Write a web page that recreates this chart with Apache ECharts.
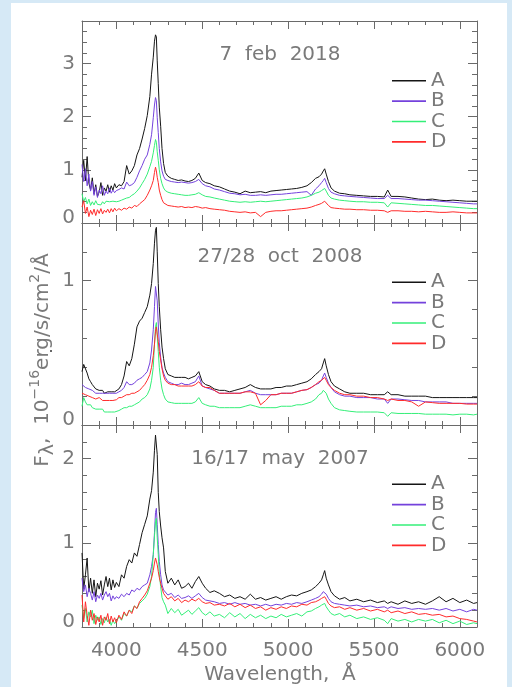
<!DOCTYPE html>
<html><head><meta charset="utf-8">
<script src="https://cdn.jsdelivr.net/npm/echarts@6/dist/echarts.min.js"></script>
<style>
html,body{margin:0;padding:0;background:#d6e9f6;}
#wrap{position:relative;width:512px;height:687px;background:#d6e9f6;overflow:hidden;}
#paper{position:absolute;left:11px;top:3px;width:496px;height:684px;background:#ffffff;}
#c{position:absolute;left:0;top:0;width:512px;height:687px;}
</style>
</head><body><div id="wrap"><div id="paper"></div><div id="c"></div></div>
<script>
// ---- data ----
const wavelengths = [
 3800,3810,3820,3830,3840,3850,3860,3870,3880,3890,3900,3910,3920,3930,3940,3950,3960,3970,3980,3990,4000,
 4015,4030,4045,4060,4075,4090,4105,4120,4135,4150,4165,4180,4195,4205,4215,4222,4228,4233,4238,4244,4250,4258,4266,4275,4285,
 4300,4320,4340,4360,4380,4400,4420,4440,4460,4480,4500,4520,4545,4570,
 4600,4630,4660,4690,4720,4750,4780,4810,4840,4870,4900,4930,4960,4990,5020,5050,5080,5110,
 5135,5160,5180,5195,5205,5213,5222,5235,5250,5270,5300,5330,5360,
 5400,5440,5480,5520,5560,5580,5600,5640,5680,5720,5760,5800,5840,5880,5920,5960,6000,6040,6080,6100];

const feb2018_A = [
 0.86,1.18,0.80,1.25,0.75,0.62,0.85,0.55,0.72,0.50,0.58,0.76,0.52,0.66,0.60,0.72,0.58,0.70,0.62,0.74,0.66,
 0.72,0.70,0.78,1.08,0.92,0.98,1.08,1.28,1.40,1.58,1.78,2.02,2.38,2.80,3.12,3.42,3.54,3.50,3.05,2.62,2.18,1.82,1.40,1.12,0.95,
 0.88,0.84,0.82,0.80,0.81,0.79,0.78,0.80,0.84,0.94,0.80,0.76,0.74,0.70,
 0.68,0.64,0.60,0.58,0.55,0.60,0.57,0.58,0.59,0.57,0.60,0.61,0.62,0.63,0.64,0.65,0.67,0.70,
 0.76,0.84,0.87,0.92,0.98,1.02,0.92,0.78,0.66,0.60,0.56,0.55,0.53,
 0.52,0.51,0.50,0.50,0.49,0.62,0.50,0.50,0.49,0.47,0.45,0.44,0.45,0.43,0.42,0.43,0.42,0.41,0.41,0.41];
const feb2018_B = [
 1.10,0.78,1.02,0.70,0.92,0.60,0.78,0.52,0.68,0.48,0.62,0.55,0.70,0.52,0.60,0.55,0.66,0.56,0.62,0.57,0.61,
 0.63,0.66,0.64,0.77,0.70,0.72,0.76,0.86,0.98,1.08,1.20,1.28,1.48,1.66,1.98,2.22,2.36,2.30,1.98,1.70,1.40,1.15,0.98,0.88,0.82,
 0.80,0.78,0.77,0.76,0.77,0.76,0.75,0.76,0.78,0.82,0.74,0.70,0.68,0.64,
 0.62,0.59,0.56,0.55,0.53,0.54,0.52,0.52,0.53,0.52,0.53,0.54,0.54,0.55,0.56,0.57,0.58,0.59,
 0.52,0.64,0.70,0.76,0.80,0.84,0.76,0.65,0.58,0.55,0.52,0.51,0.50,
 0.49,0.48,0.47,0.46,0.46,0.52,0.46,0.46,0.45,0.44,0.43,0.43,0.42,0.41,0.40,0.39,0.38,0.37,0.36,0.36];
const feb2018_C = [
 0.55,0.40,0.48,0.36,0.45,0.33,0.40,0.34,0.42,0.35,0.38,0.34,0.40,0.36,0.41,0.38,0.40,0.37,0.41,0.39,0.40,
 0.41,0.43,0.45,0.47,0.48,0.52,0.55,0.60,0.66,0.74,0.82,0.92,1.06,1.16,1.32,1.46,1.57,1.52,1.34,1.18,1.00,0.84,0.74,0.66,0.61,
 0.58,0.56,0.55,0.54,0.53,0.52,0.52,0.53,0.54,0.57,0.53,0.50,0.49,0.47,
 0.45,0.43,0.41,0.40,0.39,0.40,0.39,0.40,0.41,0.40,0.41,0.42,0.43,0.44,0.45,0.46,0.47,0.49,
 0.52,0.56,0.58,0.61,0.64,0.65,0.60,0.52,0.47,0.45,0.43,0.42,0.41,
 0.40,0.40,0.39,0.39,0.38,0.30,0.38,0.37,0.36,0.35,0.34,0.33,0.33,0.32,0.31,0.30,0.29,0.28,0.27,0.27];
const feb2018_D = [
 0.30,0.42,0.18,0.30,0.12,0.24,0.16,0.26,0.14,0.25,0.18,0.27,0.17,0.24,0.20,0.26,0.19,0.27,0.21,0.28,0.23,
 0.27,0.24,0.28,0.26,0.30,0.28,0.33,0.31,0.36,0.40,0.44,0.52,0.62,0.70,0.80,0.95,1.05,0.98,0.86,0.76,0.62,0.52,0.44,0.38,0.35,
 0.33,0.32,0.31,0.30,0.31,0.29,0.30,0.29,0.31,0.30,0.28,0.29,0.27,0.26,
 0.25,0.24,0.22,0.21,0.20,0.21,0.19,0.20,0.12,0.20,0.22,0.23,0.23,0.24,0.25,0.26,0.27,0.28,
 0.30,0.33,0.35,0.37,0.40,0.41,0.38,0.33,0.29,0.28,0.27,0.26,0.26,
 0.25,0.25,0.24,0.24,0.23,0.20,0.23,0.23,0.22,0.22,0.21,0.22,0.21,0.20,0.20,0.21,0.20,0.19,0.19,0.19];

const oct2008_A = [
 0.37,0.42,0.41,0.36,0.32,0.30,0.28,0.27,0.25,0.24,0.24,0.23,0.24,0.22,0.23,0.23,0.22,0.23,0.24,0.23,0.24,
 0.25,0.28,0.34,0.44,0.41,0.46,0.56,0.68,0.72,0.74,0.78,0.82,0.90,0.98,1.12,1.26,1.35,1.37,1.20,0.98,0.82,0.66,0.54,0.46,0.39,
 0.35,0.34,0.33,0.33,0.33,0.33,0.32,0.33,0.34,0.37,0.30,0.28,0.27,0.25,
 0.24,0.24,0.23,0.24,0.25,0.26,0.28,0.26,0.25,0.25,0.25,0.26,0.26,0.27,0.27,0.28,0.29,0.30,
 0.32,0.35,0.37,0.39,0.43,0.46,0.41,0.35,0.30,0.27,0.25,0.23,0.22,
 0.22,0.22,0.21,0.21,0.21,0.23,0.21,0.21,0.20,0.20,0.20,0.20,0.19,0.19,0.19,0.19,0.19,0.19,0.19,0.19];
const oct2008_B = [
 0.28,0.27,0.26,0.25,0.25,0.245,0.24,0.23,0.22,0.22,0.22,0.21,0.22,0.21,0.22,0.21,0.22,0.21,0.22,0.22,0.22,
 0.23,0.24,0.26,0.30,0.28,0.28,0.29,0.31,0.32,0.33,0.35,0.37,0.43,0.52,0.66,0.82,0.96,0.97,0.86,0.70,0.57,0.47,0.40,0.36,0.33,
 0.30,0.29,0.28,0.28,0.29,0.28,0.28,0.29,0.30,0.34,0.27,0.26,0.25,0.24,
 0.22,0.22,0.22,0.22,0.22,0.23,0.24,0.22,0.21,0.21,0.21,0.21,0.22,0.22,0.22,0.23,0.24,0.245,
 0.26,0.28,0.29,0.31,0.34,0.36,0.33,0.29,0.26,0.23,0.21,0.20,0.20,
 0.19,0.19,0.19,0.18,0.18,0.15,0.18,0.18,0.175,0.17,0.17,0.16,0.16,0.16,0.16,0.15,0.15,0.15,0.15,0.15];
const oct2008_C = [
 0.13,0.19,0.16,0.14,0.15,0.14,0.12,0.13,0.11,0.12,0.11,0.10,0.11,0.09,0.10,0.09,0.10,0.09,0.10,0.09,0.09,
 0.10,0.11,0.12,0.12,0.13,0.13,0.14,0.15,0.16,0.18,0.19,0.21,0.25,0.31,0.40,0.56,0.68,0.71,0.62,0.51,0.40,0.31,0.25,0.21,0.18,
 0.16,0.155,0.15,0.15,0.15,0.15,0.15,0.15,0.16,0.19,0.15,0.14,0.13,0.13,
 0.12,0.12,0.12,0.12,0.12,0.13,0.14,0.13,0.12,0.12,0.12,0.12,0.13,0.13,0.13,0.14,0.14,0.15,
 0.16,0.18,0.21,0.22,0.24,0.245,0.22,0.18,0.15,0.12,0.105,0.10,0.095,
 0.09,0.09,0.09,0.09,0.085,0.06,0.085,0.08,0.08,0.08,0.08,0.075,0.075,0.075,0.075,0.07,0.075,0.075,0.07,0.075];
const oct2008_D = [
 0.22,0.23,0.21,0.22,0.20,0.20,0.19,0.20,0.18,0.19,0.19,0.18,0.17,0.18,0.17,0.18,0.17,0.18,0.17,0.18,0.175,
 0.19,0.19,0.20,0.21,0.21,0.22,0.22,0.23,0.24,0.26,0.28,0.31,0.35,0.40,0.48,0.56,0.65,0.68,0.63,0.58,0.51,0.45,0.39,0.34,0.31,
 0.29,0.28,0.28,0.27,0.27,0.27,0.27,0.27,0.28,0.30,0.27,0.26,0.26,0.24,
 0.22,0.22,0.22,0.22,0.22,0.23,0.23,0.22,0.14,0.17,0.21,0.21,0.22,0.22,0.22,0.23,0.24,0.245,
 0.26,0.28,0.30,0.31,0.32,0.33,0.31,0.28,0.26,0.24,0.22,0.21,0.21,
 0.20,0.20,0.19,0.19,0.18,0.17,0.18,0.17,0.17,0.16,0.13,0.16,0.155,0.15,0.15,0.15,0.15,0.145,0.145,0.145];

const may2007_A = [
 0.88,0.45,0.62,0.82,0.42,0.58,0.40,0.56,0.36,0.52,0.45,0.55,0.38,0.50,0.60,0.48,0.58,0.44,0.56,0.47,0.53,
 0.48,0.62,0.58,0.72,0.80,0.76,0.88,0.84,0.98,1.12,1.22,1.32,1.52,1.62,1.84,2.10,2.28,2.29,2.05,1.60,1.37,1.20,1.06,0.94,0.66,
 0.52,0.58,0.50,0.56,0.46,0.48,0.52,0.46,0.54,0.60,0.52,0.46,0.41,0.43,
 0.40,0.36,0.38,0.34,0.36,0.33,0.39,0.33,0.35,0.32,0.34,0.36,0.33,0.36,0.38,0.37,0.40,0.42,
 0.44,0.48,0.52,0.56,0.62,0.67,0.58,0.50,0.42,0.37,0.33,0.35,0.31,
 0.33,0.30,0.32,0.29,0.31,0.28,0.30,0.27,0.31,0.28,0.30,0.27,0.31,0.36,0.30,0.34,0.29,0.32,0.28,0.29];
const may2007_B = [
 0.58,0.42,0.50,0.36,0.46,0.40,0.32,0.42,0.30,0.38,0.34,0.40,0.32,0.38,0.42,0.36,0.40,0.31,0.37,0.33,0.36,
 0.34,0.39,0.36,0.40,0.38,0.44,0.42,0.46,0.44,0.48,0.50,0.52,0.62,0.72,0.86,1.12,1.36,1.41,1.22,0.98,0.78,0.62,0.50,0.44,0.42,
 0.38,0.40,0.35,0.38,0.34,0.35,0.37,0.34,0.37,0.40,0.35,0.32,0.31,0.30,
 0.28,0.29,0.27,0.29,0.27,0.28,0.26,0.27,0.25,0.27,0.25,0.27,0.26,0.28,0.27,0.29,0.28,0.30,
 0.32,0.34,0.36,0.39,0.42,0.44,0.39,0.34,0.30,0.28,0.27,0.26,0.25,
 0.26,0.24,0.25,0.23,0.24,0.22,0.24,0.22,0.23,0.21,0.22,0.21,0.22,0.20,0.22,0.19,0.21,0.18,0.21,0.20];
const may2007_C = [
 0.26,0.10,0.22,0.06,0.18,0.12,0.20,0.04,0.14,0.08,0.12,0.03,0.10,0.05,0.12,0.06,0.09,0.02,0.08,0.04,0.07,
 0.12,0.08,0.16,0.13,0.20,0.18,0.25,0.22,0.28,0.31,0.34,0.39,0.48,0.60,0.86,1.08,1.25,1.29,1.06,0.86,0.63,0.48,0.35,0.30,0.26,
 0.16,0.22,0.17,0.21,0.14,0.17,0.20,0.15,0.19,0.23,0.17,0.14,0.18,0.13,
 0.15,0.11,0.17,0.12,0.16,0.10,0.15,0.11,0.14,0.10,0.13,0.11,0.15,0.12,0.14,0.16,0.13,0.18,
 0.19,0.22,0.24,0.26,0.27,0.28,0.24,0.20,0.16,0.14,0.16,0.12,0.14,
 0.10,0.12,0.09,0.11,0.08,0.04,0.10,0.07,0.09,0.06,0.09,0.07,0.09,0.05,0.08,0.04,0.07,0.03,0.05,0.04];
const may2007_D = [
 0.38,0.06,0.30,0.14,0.02,0.20,0.08,0.16,0.03,0.12,0.06,0.14,0.02,0.12,0.08,0.16,0.04,0.13,0.06,0.11,0.05,
 0.14,0.09,0.18,0.13,0.20,0.16,0.25,0.22,0.30,0.34,0.38,0.43,0.52,0.58,0.67,0.76,0.82,0.80,0.74,0.66,0.59,0.52,0.46,0.40,0.37,
 0.33,0.36,0.31,0.34,0.29,0.32,0.30,0.33,0.31,0.34,0.30,0.28,0.29,0.26,
 0.27,0.25,0.28,0.24,0.27,0.23,0.26,0.22,0.24,0.20,0.23,0.21,0.24,0.22,0.25,0.24,0.27,0.26,
 0.29,0.30,0.32,0.34,0.35,0.36,0.33,0.28,0.25,0.23,0.24,0.21,0.23,
 0.20,0.22,0.19,0.21,0.18,0.20,0.17,0.19,0.16,0.18,0.15,0.16,0.14,0.15,0.12,0.13,0.10,0.09,0.07,0.06];

const seriesNames = ['A','B','C','D'];
const panelTitles = ['7  feb  2018','27/28  oct  2008','16/17  may  2007'];
const xTickValues = [4000,4500,5000,5500,6000];
const yAxisMax = [3.8, 1.4, 2.4];
const yTickValues = [[0,1,2,3],[0,1],[0,1,2]];
const panelSeries = [
  [feb2018_A, feb2018_B, feb2018_C, feb2018_D],
  [oct2008_A, oct2008_B, oct2008_C, oct2008_D],
  [may2007_A, may2007_B, may2007_C, may2007_D]
];

// ---- styles / layout ----
const FONT = 'DejaVu Sans';
const TXT = '#7a7a7a';
const AX = '#6a6a6a';
const colors = ['#151515','#7442dc','#34ef78','#ff2b2b'];
const gridTops = [21, 223, 425];
const gridH = 202;
const legendTops = [70.5, 272, 474];
const titleY = [55, 257, 458.5];

const chart = echarts.init(document.getElementById('c'), null, {renderer:'canvas'});

const grids = gridTops.map(t => ({left:82, width:395, top:t, height:gridH, outerBoundsMode:'none', containLabel:false}));
const xAxes = [], yAxes = [];
const lineSty = {color:AX, width:1};
gridTops.forEach((t, g) => {
  const xb = {gridIndex:g, type:'value', min:3800, max:6100, splitLine:{show:false}, minorTick:{show:false}};
  xAxes.push(Object.assign({}, xb, {position:'bottom',
    axisLine:{show:true,onZero:false,lineStyle:lineSty},
    axisTick:{show:true,inside:true,length:8,customValues:xTickValues,lineStyle:lineSty},
    axisLabel:{show:g===2,customValues:xTickValues,margin:14,fontSize:20,fontFamily:FONT,color:TXT,
      formatter: v => String(v)}}));
  xAxes.push(Object.assign({}, xb, {position:'bottom', interval:100,
    axisLine:{show:false,onZero:false},
    axisTick:{show:true,inside:true,length:4,lineStyle:lineSty},
    axisLabel:{show:false}}));
  xAxes.push(Object.assign({}, xb, {position:'top',
    axisLine:{show:true,onZero:false,lineStyle:lineSty},
    axisTick:{show:true,inside:true,length:8,customValues:xTickValues,lineStyle:lineSty},
    axisLabel:{show:false}}));
  xAxes.push(Object.assign({}, xb, {position:'top', interval:100,
    axisLine:{show:false,onZero:false},
    axisTick:{show:true,inside:true,length:4,lineStyle:lineSty},
    axisLabel:{show:false}}));

  const yb = {gridIndex:g, type:'value', min:0, max:yAxisMax[g], splitLine:{show:false}, minorTick:{show:false}};
  yAxes.push(Object.assign({}, yb, {position:'left',
    axisLine:{show:true,onZero:false,lineStyle:lineSty},
    axisTick:{show:true,inside:true,length:9,customValues:yTickValues[g],lineStyle:lineSty},
    axisLabel:{show:true,customValues:yTickValues[g],margin:7,fontSize:20,fontFamily:FONT,color:TXT,
      formatter: v => (v === 0 ? '{z|0}' : String(v)),
      rich:{z:{fontSize:20,fontFamily:FONT,color:TXT,padding:[0,0,11,0]}}}}));
  yAxes.push(Object.assign({}, yb, {position:'left', interval:0.2,
    axisLine:{show:false,onZero:false},
    axisTick:{show:true,inside:true,length:5,lineStyle:lineSty},
    axisLabel:{show:false}}));
  yAxes.push(Object.assign({}, yb, {position:'right',
    axisLine:{show:true,onZero:false,lineStyle:lineSty},
    axisTick:{show:true,inside:true,length:9,customValues:yTickValues[g],lineStyle:lineSty},
    axisLabel:{show:false}}));
  yAxes.push(Object.assign({}, yb, {position:'right', interval:0.2,
    axisLine:{show:false,onZero:false},
    axisTick:{show:true,inside:true,length:5,lineStyle:lineSty},
    axisLabel:{show:false}}));
});

const series = [];
panelSeries.forEach((sets, g) => {
  sets.forEach((vals, k) => {
    series.push({
      type:'line', name:seriesNames[k], xAxisIndex:4*g, yAxisIndex:4*g,
      data: wavelengths.map((w, i) => [w, vals[i]]),
      showSymbol:false, symbol:'none', silent:true, animation:false,
      lineStyle:{width:1, color:colors[k]}, itemStyle:{color:colors[k]}
    });
  });
});

const legends = legendTops.map(t => ({
  data: seriesNames, orient:'vertical', left:392, top:t, padding:0, itemGap:0,
  icon:'rect', itemWidth:34, itemHeight:1.6, selectedMode:false,
  textStyle:{fontSize:20, fontFamily:FONT, color:TXT, lineHeight:20.4}
}));

const graphics = [];
panelTitles.forEach((s, g) => {
  graphics.push({type:'text', x:280, y:titleY[g], silent:true,
    style:{text:s, fontSize:20, fontFamily:FONT, fill:TXT, align:'center', verticalAlign:'middle'}});
});
graphics.push({type:'text', x:280, y:675, silent:true,
  style:{text:'Wavelength,  Å', fontSize:20, fontFamily:FONT, fill:TXT, align:'center', verticalAlign:'middle'}});
graphics.push({type:'text', x:43, y:360, rotation:Math.PI/2, silent:true,
  style:{text:'{b|F}{sub|λ}{b|,  10}{sup|−16}{b|erg/s/cm}{sup|2}{b|/Å}', align:'center', verticalAlign:'middle',
    fontSize:20, fontFamily:FONT, fill:TXT,
    rich:{
      b:{fontSize:20, fontFamily:FONT, fill:TXT, lineHeight:30, verticalAlign:'middle'},
      sup:{fontSize:14, fontFamily:FONT, fill:TXT, lineHeight:14, verticalAlign:'top'},
      sub:{fontSize:19, fontFamily:FONT, fill:TXT, lineHeight:17, verticalAlign:'bottom'}
    }}});
graphics.push({type:'circle', shape:{cx:51, cy:351, r:1}, style:{fill:'#333'}, silent:true});

chart.setOption({
  animation:false,
  backgroundColor:'transparent',
  textStyle:{fontFamily:FONT},
  grid:grids, xAxis:xAxes, yAxis:yAxes, series:series, legend:legends, graphic:graphics
});
</script>
</body></html>
